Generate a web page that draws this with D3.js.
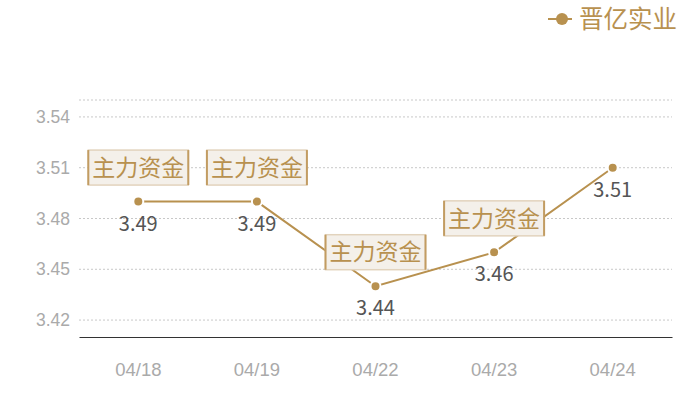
<!DOCTYPE html>
<html>
<head>
<meta charset="utf-8">
<script src="https://cdn.jsdelivr.net/npm/d3@7"></script>
<style>
  body { margin: 0; background: #fff; }
  svg { font-family: "Noto Sans CJK SC", "Noto Sans", sans-serif; }
</style>
</head>
<body>
<div id="chart-area"></div>
<script>
const dates = ["04/18", "04/19", "04/22", "04/23", "04/24"]
const prices = [3.49, 3.49, 3.44, 3.46, 3.51]
const flagged = [true, true, true, true, false]
const yTicks = [3.42, 3.45, 3.48, 3.51, 3.54]
const seriesName = "晋亿实业"
const flagText = "主力资金"

const totalWidth = 700
const totalHeight = 400
const MARGIN = {LEFT: 79, RIGHT: 28, TOP: 100, BOTTOM: 63}
const WIDTH = totalWidth - MARGIN.LEFT - MARGIN.RIGHT
const HEIGHT = totalHeight - MARGIN.TOP - MARGIN.BOTTOM

const GOLD = "#b8914f"

const svg = d3.select("#chart-area")
    .append("svg")
    .attr("width", totalWidth)
    .attr("height", totalHeight)

const g = svg.append("g")
    .attr("transform", `translate(${MARGIN.LEFT}, ${MARGIN.TOP})`)

const xScale = d3.scaleBand()
    .domain(dates)
    .range([0, WIDTH])

const yScale = d3.scaleLinear()
    .domain([3.41, 3.55])
    .range([HEIGHT, 0])

const xc = d => xScale(d) + xScale.bandwidth() / 2

// grid lines (including the top edge)
g.selectAll(".grid")
    .data(yTicks.concat([3.55]))
    .enter().append("line")
    .attr("class", "grid")
    .attr("x1", 0)
    .attr("x2", WIDTH)
    .attr("y1", d => yScale(d))
    .attr("y2", d => yScale(d))
    .attr("stroke", "#c8c8c8")
    .attr("stroke-dasharray", "2,2")

// y axis labels
const yAxis = g.append("g")
    .call(d3.axisLeft(yScale).tickValues(yTicks).tickFormat(d3.format(".2f")).tickSize(0).tickPadding(9))
yAxis.select(".domain").remove()
yAxis.selectAll("text")
    .attr("fill", "#aaaaaa")
    .attr("font-size", "17.5px")

// x axis
const xAxis = g.append("g")
    .attr("transform", `translate(0, ${HEIGHT})`)
    .call(d3.axisBottom(xScale).tickSize(0).tickPadding(26))
xAxis.select(".domain")
    .attr("stroke", "#333")
    .attr("stroke-width", 1.2)
xAxis.selectAll("text")
    .attr("fill", "#aaaaaa")
    .attr("font-size", "18.5px")

// line
const line = d3.line()
    .x((d, i) => xc(dates[i]))
    .y(d => yScale(d))

g.append("path")
    .attr("d", line(prices))
    .attr("fill", "none")
    .attr("stroke", GOLD)
    .attr("stroke-width", 2)

g.selectAll(".dot")
    .data(prices)
    .enter().append("circle")
    .attr("class", "dot")
    .attr("cx", (d, i) => xc(dates[i]))
    .attr("cy", d => yScale(d))
    .attr("r", 5)
    .attr("fill", GOLD)
    .attr("stroke", "#fff")
    .attr("stroke-width", 2)

// value labels
g.selectAll(".val")
    .data(prices)
    .enter().append("text")
    .attr("class", "val")
    .attr("x", (d, i) => xc(dates[i]))
    .attr("y", d => yScale(d) + 29)
    .attr("text-anchor", "middle")
    .attr("fill", "#555")
    .attr("font-size", "20px")
    .text(d => d.toFixed(2))

// flag boxes
const boxW = 100, boxH = 35
const flags = g.selectAll(".flag")
    .data(prices.map((p, i) => ({date: dates[i], price: p, show: flagged[i]})).filter(d => d.show))
    .enter().append("g")
    .attr("class", "flag")
    .attr("transform", d => `translate(${xc(d.date)}, ${yScale(d.price) - 34})`)

flags.append("rect")
    .attr("x", -boxW / 2)
    .attr("y", -boxH / 2)
    .attr("width", boxW)
    .attr("height", boxH)
    .attr("fill", "#f4f0ea")
    .attr("stroke", "#e2d3bd")
    .attr("stroke-width", 1.5)

flags.append("line")
    .attr("x1", -boxW / 2).attr("x2", -boxW / 2)
    .attr("y1", -boxH / 2).attr("y2", boxH / 2)
    .attr("stroke", "#c29c62").attr("stroke-width", 2)
flags.append("line")
    .attr("x1", boxW / 2).attr("x2", boxW / 2)
    .attr("y1", -boxH / 2).attr("y2", boxH / 2)
    .attr("stroke", "#c29c62").attr("stroke-width", 2)

flags.append("text")
    .attr("text-anchor", "middle")
    .attr("dy", "0.36em")
    .attr("fill", GOLD)
    .attr("font-size", "23px")
    .text(flagText)

// legend
const legend = svg.append("g")
    .attr("transform", "translate(548, 19)")
legend.append("line")
    .attr("x1", 0).attr("x2", 24)
    .attr("stroke", GOLD).attr("stroke-width", 2)
legend.append("circle")
    .attr("cx", 14).attr("r", 6)
    .attr("fill", GOLD)
legend.append("text")
    .attr("x", 31)
    .attr("dy", "0.36em")
    .attr("fill", GOLD)
    .attr("font-size", "24.5px")
    .text(seriesName)
</script>
</body>
</html>
